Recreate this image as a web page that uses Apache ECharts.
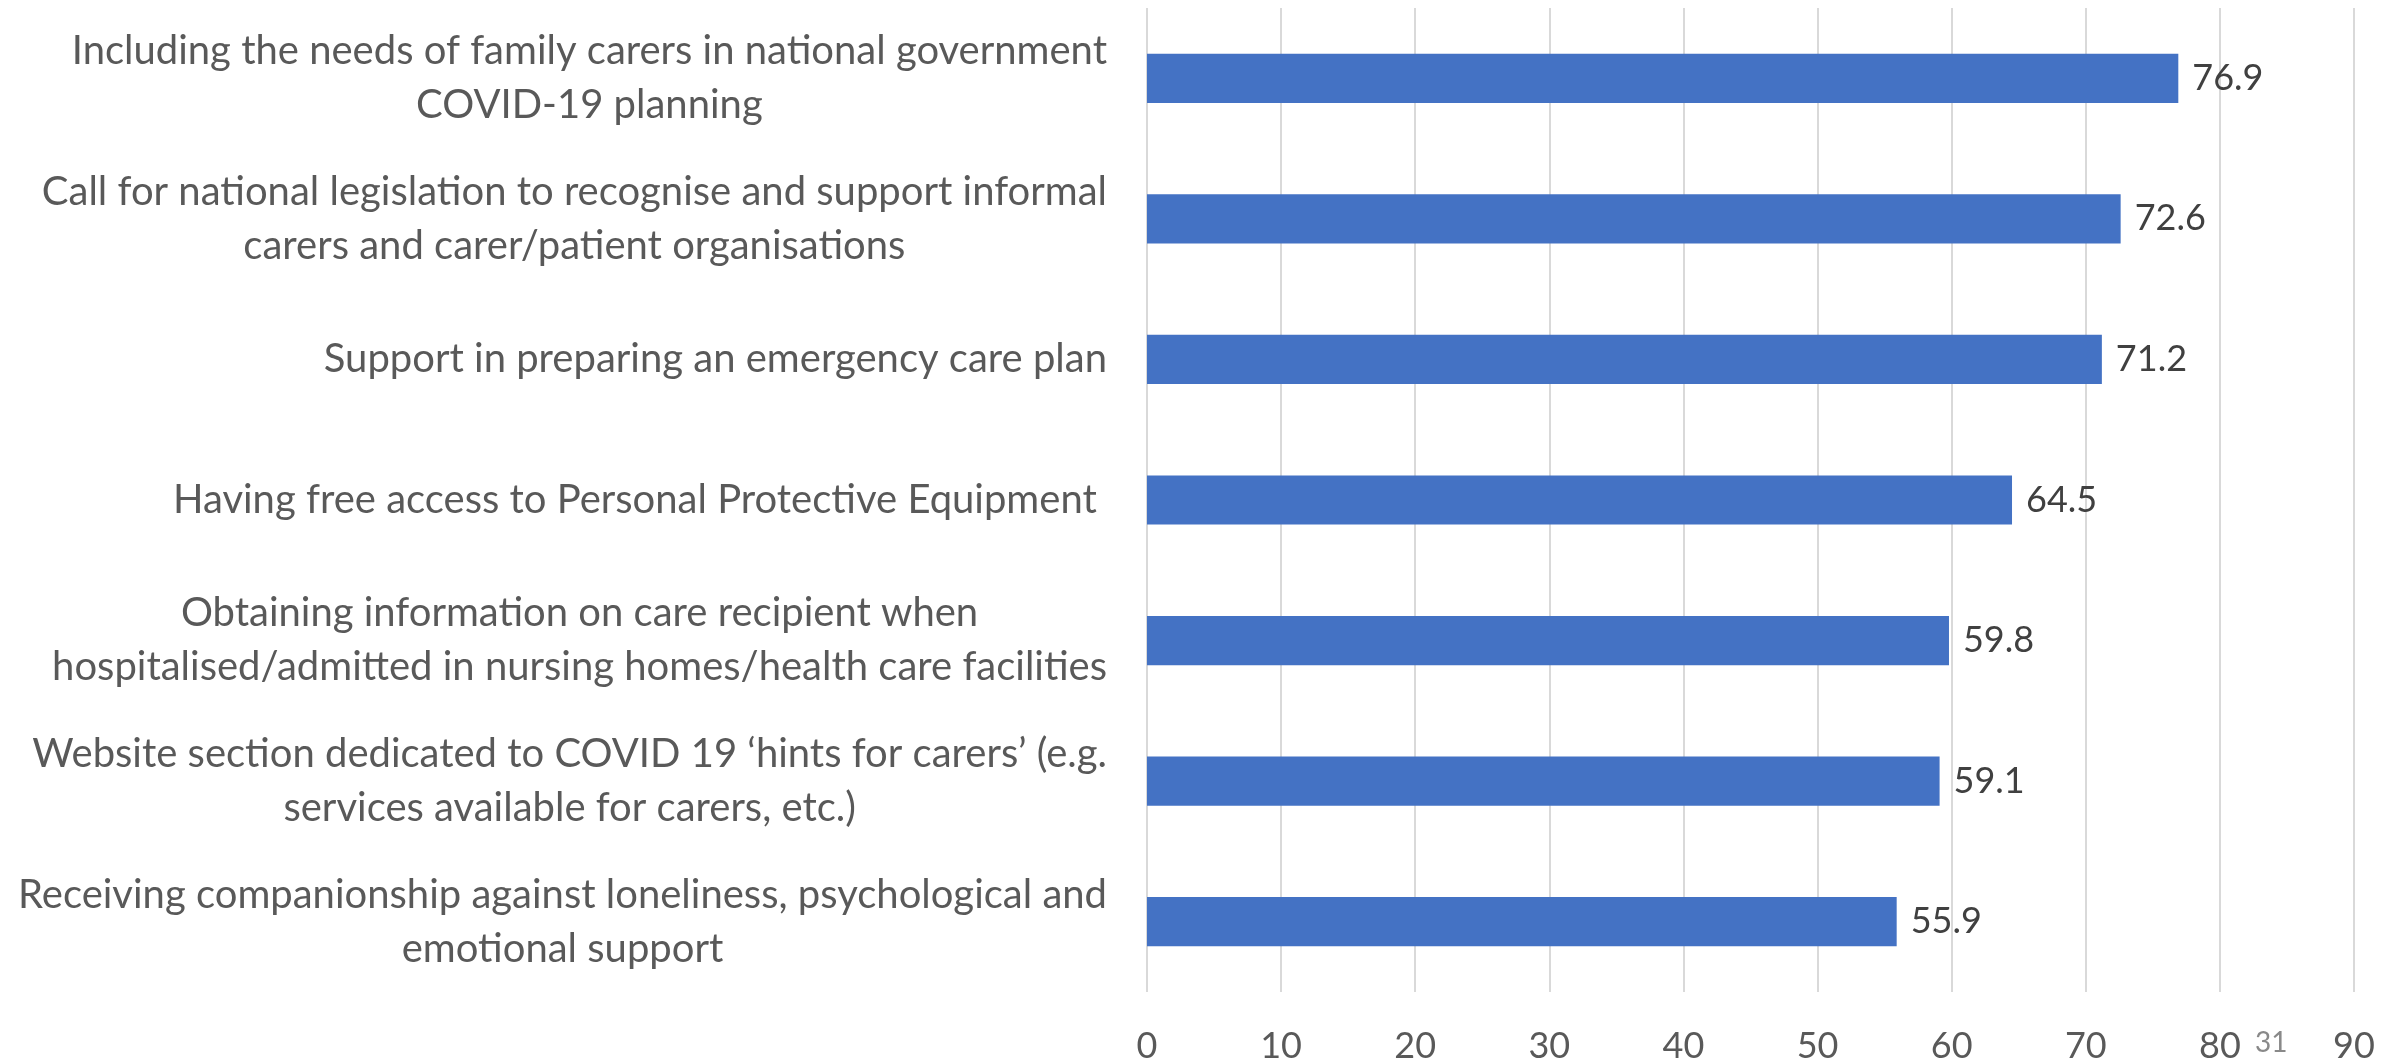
<!DOCTYPE html>
<html>
<head>
<meta charset="utf-8">
<title>Support measures for family carers</title>
<script src="https://cdn.jsdelivr.net/npm/echarts@6/dist/echarts.min.js"></script>
<style>
  html, body { margin: 0; padding: 0; background: #ffffff; }
  #chart { width: 2403px; height: 1064px; }
</style>
</head>
<body>
<div id="chart"></div>
<script>
// Category labels, top to bottom ("\n" marks the line breaks)
const categories = [
  'Including the needs of family carers in national government\nCOVID-19 planning',
  'Call for national legislation to recognise and support informal\ncarers and carer/patient organisations',
  'Support in preparing an emergency care plan',
  'Having free access to Personal Protective Equipment ',
  'Obtaining information on care recipient when\nhospitalised/admitted in nursing homes/health care facilities',
  'Website section dedicated to COVID 19 \u2018hints for carers\u2019 (e.g.\nservices available for carers, etc.)',
  'Receiving companionship against loneliness, psychological and\nemotional support'
];

// Share of respondents (%) for each measure
const values = [76.9, 72.6, 71.2, 64.5, 59.8, 59.1, 55.9];

// Value axis range and step
const axisMin = 0;
const axisMax = 90;
const axisStep = 10;

// Slide page number shown next to the axis
const pageNumber = '31';

const FONT = 'Lato, "Open Sans", sans-serif';
const chart = echarts.init(document.getElementById('chart'), null, { renderer: 'canvas' });

// Each line becomes a centred token, so multi-line labels are centred within their block
function categoryLabel(text) {
  return text.split('\n').map(line => '{c|' + line + '}').join('\n');
}

chart.setOption({
  animation: false,
  backgroundColor: '#ffffff',
  grid: { left: 1147, right: 49, top: 8, bottom: 72, containLabel: false },
  xAxis: {
    type: 'value',
    min: axisMin,
    max: axisMax,
    interval: axisStep,
    axisLine: { show: false },
    axisTick: { show: false },
    splitLine: { show: true, lineStyle: { color: '#d9d9d9', width: 2 } },
    axisLabel: {
      color: '#595959',
      fontFamily: FONT,
      fontSize: 36,
      margin: 36
    }
  },
  yAxis: {
    type: 'category',
    inverse: true,
    data: categories,
    axisLine: { show: false },
    axisTick: { show: false },
    splitLine: { show: false },
    axisLabel: {
      align: 'right',
      margin: 40,
      color: '#595959',
      fontFamily: FONT,
      fontSize: 40,
      lineHeight: 54,
      formatter: categoryLabel,
      rich: {
        c: {
          align: 'center',
          color: '#595959',
          fontFamily: FONT,
          fontSize: 40,
          lineHeight: 54
        }
      }
    }
  },
  series: [{
    type: 'bar',
    data: values,
    barWidth: '35%',
    itemStyle: { color: '#4472c4' },
    label: {
      show: true,
      position: 'right',
      distance: 14,
      color: '#404040',
      fontFamily: FONT,
      fontSize: 36,
      formatter: p => p.value.toFixed(1)
    }
  }],
  graphic: [{
    type: 'text',
    left: 2255,
    top: 1029,
    style: {
      text: pageNumber,
      fill: '#898989',
      font: '28px ' + FONT
    }
  }]
});
</script>
</body>
</html>
